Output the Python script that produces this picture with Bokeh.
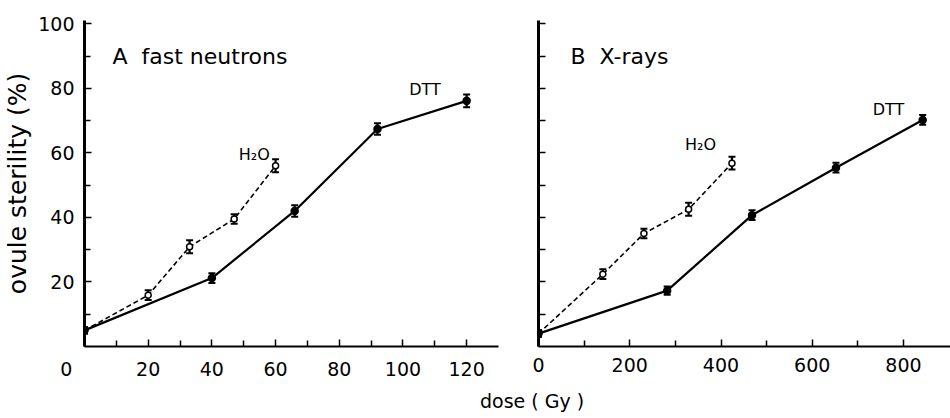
from bokeh.plotting import figure
from bokeh.layouts import row, column
from bokeh.models import ColumnDataSource, Whisker, TeeHead, FixedTicker, Div
from bokeh.core.properties import value
from bokeh.embed import file_html
from bokeh.resources import INLINE

FONT = "DejaVu Sans"
NB = "\u00a0"

# ---- data: panel A (fast neutrons) ----
a_dtt_dose = [0, 40, 66, 92, 120]
a_dtt_ster = [5.0, 21.2, 42.0, 67.4, 76.1]
a_dtt_err = [1.0, 1.5, 1.8, 1.8, 2.0]
a_h2o_dose = [0, 20, 33, 47, 60]
a_h2o_ster = [5.0, 15.9, 30.9, 39.5, 56.0]
a_h2o_err = [1.0, 1.5, 2.0, 1.5, 2.0]

# ---- data: panel B (X-rays) ----
b_dtt_dose = [0, 282, 468, 652, 842]
b_dtt_ster = [4.0, 17.3, 40.7, 55.4, 70.2]
b_dtt_err = [1.0, 1.3, 1.5, 1.5, 1.5]
b_h2o_dose = [0, 141, 231, 329, 424]
b_h2o_ster = [4.0, 22.4, 35.0, 42.5, 56.8]
b_h2o_err = [1.0, 1.5, 1.5, 2.0, 2.0]

a_xticks = [0, 20, 40, 60, 80, 100, 120]
a_xminor = [10, 30, 50, 70, 90, 110]
b_xticks = [0, 200, 400, 600, 800]
b_xminor = [100, 300, 500, 700]
yticks = [20, 40, 60, 80, 100]
yminor = [10, 30, 50, 70, 90]
b_yticks = [10, 20, 30, 40, 50, 60, 70, 80, 90, 100]

a_title = "A" + NB + NB + "fast neutrons"
b_title = "B" + NB + NB + "X-rays"
series_names = ["DTT", "H\u2082O"]

# label positions (data coords)
a_title_xy = (8.8, 89.8)
b_title_xy = (70, 89.8)
a_lab_x = [106.9, 53.3]
a_lab_y = [79.6, 59.4]
b_lab_x = [767, 355]
b_lab_y = [73.4, 62.5]


def style_axes(p, xt, xm, yt, ym, ylabels=True):
    p.xaxis.ticker = FixedTicker(ticks=xt, minor_ticks=xm)
    p.yaxis.ticker = FixedTicker(ticks=yt, minor_ticks=ym)
    for ax in (p.xaxis[0], p.yaxis[0]):
        ax.major_tick_in = 7
        ax.major_tick_out = 0
        ax.minor_tick_in = 6
        ax.minor_tick_out = 0
        ax.major_tick_line_width = 1.5
        ax.minor_tick_line_width = 1.5
        ax.major_tick_line_color = "black"
        ax.minor_tick_line_color = "black"
        ax.major_label_text_font = FONT
        ax.axis_label_text_font = FONT
        ax.axis_label_text_font_style = "normal"
        ax.axis_label_text_color = "black"
        ax.major_label_text_color = "black"
        ax.axis_line_color = "black"
    p.xaxis.axis_line_width = 2
    p.yaxis.axis_line_width = 3
    p.xaxis.major_label_text_font_size = "19px"
    p.yaxis.major_label_text_font_size = "19px"
    p.xaxis.major_label_standoff = 11
    p.yaxis.major_label_standoff = 10
    if not ylabels:
        p.yaxis.major_label_overrides = {t: "" for t in yt}


def draw_series(p, x, y, err, filled, dashed):
    lo = [v - e for v, e in zip(y, err)]
    hi = [v + e for v, e in zip(y, err)]
    src = ColumnDataSource(dict(x=x, y=y, lo=lo, hi=hi))
    p.line("x", "y", source=src, line_color="black",
           line_width=1.6 if dashed else 2.2,
           line_dash="5 3" if dashed else "solid")
    p.add_layout(Whisker(source=src, base="x", upper="hi", lower="lo",
                         line_color="black", line_width=2.2,
                         upper_head=TeeHead(size=7, line_width=2, line_color="black"),
                         lower_head=TeeHead(size=7, line_width=2, line_color="black")))
    p.scatter("x", "y", source=src, size=7 if filled else 6,
              fill_color="black" if filled else "white",
              line_color="black", line_width=1.5)


# ---------- panel A ----------
p1 = figure(width=500, height=388, x_range=(0, 130), y_range=(0, 101),
            output_backend="svg", toolbar_location=None,
            min_border_left=83, min_border_right=2, min_border_top=20, min_border_bottom=42)
p1.grid.visible = False
p1.outline_line_color = None
style_axes(p1, a_xticks, a_xminor, yticks, yminor)
# origin label sits left of the axis in the original figure
p1.xaxis.major_label_overrides = {0: "0" + NB * 6}
p1.yaxis.axis_label = "ovule sterility (%)"
p1.yaxis.axis_label_text_font_size = "25px"
p1.yaxis.axis_label_standoff = 3

draw_series(p1, a_h2o_dose, a_h2o_ster, a_h2o_err, filled=False, dashed=True)
draw_series(p1, a_dtt_dose, a_dtt_ster, a_dtt_err, filled=True, dashed=False)

p1.text(x=[a_title_xy[0]], y=[a_title_xy[1]], text=[a_title],
        text_font=value(FONT), text_font_size="22px", text_align="left",
        text_baseline="middle", text_color="black")
p1.text(x=a_lab_x, y=a_lab_y, text=series_names, text_font=value(FONT),
        text_font_size="16px", text_align="center", text_baseline="middle",
        text_color="black")

# ---------- panel B ----------
p2 = figure(width=450, height=388, x_range=(0, 903), y_range=(0, 101),
            output_backend="svg", toolbar_location=None,
            min_border_left=38, min_border_right=0, min_border_top=20, min_border_bottom=42)
p2.grid.visible = False
p2.outline_line_color = None
style_axes(p2, b_xticks, b_xminor, b_yticks, [], ylabels=False)

draw_series(p2, b_h2o_dose, b_h2o_ster, b_h2o_err, filled=False, dashed=True)
draw_series(p2, b_dtt_dose, b_dtt_ster, b_dtt_err, filled=True, dashed=False)

p2.text(x=[b_title_xy[0]], y=[b_title_xy[1]], text=[b_title],
        text_font=value(FONT), text_font_size="22px", text_align="left",
        text_baseline="middle", text_color="black")
p2.text(x=b_lab_x, y=b_lab_y, text=series_names, text_font=value(FONT),
        text_font_size="16px", text_align="center", text_baseline="middle",
        text_color="black")

xlabel = Div(text="dose ( Gy )", width=200, height=26, margin=(0, 0, 0, 480),
             styles={"font-family": FONT, "font-size": "19px", "line-height": "26px",
                     "color": "black", "white-space": "nowrap"})

layout = column(row(p1, p2, spacing=0), xlabel, spacing=0)

open("out.html", "w").write(file_html(layout, INLINE))
